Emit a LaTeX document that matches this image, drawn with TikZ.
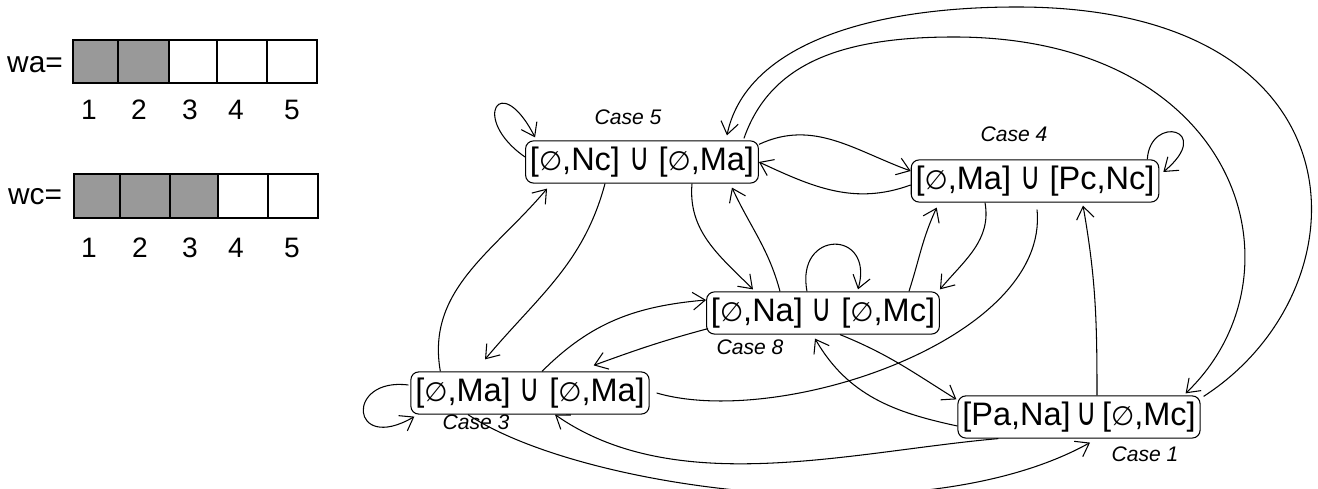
\documentclass[tikz,border=0pt]{standalone}
\usepackage{fontspec}
\usepackage{graphicx}
\setmainfont{Liberation Sans}
\newfontfamily\symfont{DejaVu Sans}[Scale=0.82]
\newcommand{\emptyglyph}{{\symfont ∅}}
\newcommand{\unionglyph}{\scalebox{1.05}[1.45]{\symfont ∪}}
\usetikzlibrary{positioning,calc,arrows.meta}
\definecolor{cellgray}{RGB}{153,153,153}

\begin{document}
\begin{tikzpicture}[x=0.02cm,y=0.02cm,
    >={Straight Barb[length=7pt,width=10pt]},
    line width=0.6pt,
    state/.style={
        rectangle, rounded corners=4.5pt, draw=black,
        minimum height=24pt,
        inner xsep=2.5pt, inner ysep=2pt,
        font=\fontsize{18.5}{22}\selectfont
    },
    casename/.style={font=\fontsize{12}{14}\selectfont\itshape, inner sep=0pt},
    arrname/.style={font=\fontsize{17}{19}\selectfont, inner sep=0pt},
    digit/.style={font=\fontsize{16}{18}\selectfont, inner sep=0pt},
    cell/.style={draw=black, line width=0.8pt},
]
    \useasboundingbox (0,0) rectangle (1318,489);
    \clip (0,0) rectangle (1318,489);

    \node [arrname] (wa) at (35,424) {wa=};
    \foreach \xa/\xb/\c in {73/118/cellgray,118/169/cellgray,169/217/white,217/267/white,267/317/white}
        \filldraw [cell, fill=\c] (\xa,406) rectangle (\xb,449);
    \foreach \x [count=\i] in {89,139,190,236,292}
        \node [digit] (wa\i) at (\x,379) {\i};

    \node [arrname] (wc) at (35,292) {wc=};
    \foreach \xa/\xb/\c in {74/120/cellgray,120/170/cellgray,170/218/cellgray,218/268/white,268/318/white}
        \filldraw [cell, fill=\c] (\xa,271) rectangle (\xb,315);
    \foreach \x [count=\i] in {89,140,190,236,292}
        \node [digit] (wc\i) at (\x,241) {\i};

    \node [state] (n5) at (642,327) {[\emptyglyph,Nc] \unionglyph{} [\emptyglyph,Ma]};
    \node [state] (n4) at (1035,308) {[\emptyglyph,Ma] \unionglyph{} [Pc,Nc]};
    \node [state] (n8) at (823,176) {[\emptyglyph,Na] \unionglyph{} [\emptyglyph,Mc]};
    \node [state] (n3) at (530,96) {[\emptyglyph,Ma] \unionglyph{} [\emptyglyph,Ma]};
    \node [state] (n1) at (1079,72) {[Pa,Na]\,\unionglyph\,[\emptyglyph,Mc]};

    \node [casename] (case5) at (628,372) {Case 5};
    \node [casename] (case4) at (1014,355) {Case 4};
    \node [casename] (case8) at (750,142) {Case 8};
    \node [casename] (case3) at (476,67) {Case 3};
    \node [casename] (case1) at (1145,35) {Case 1};

    \draw[->] ($(n5.west)+(0,5)$) .. controls (470,370) and (500,420) .. ($(n5.north west)+(10,3)$);
    \draw[->] ($(n4.north east)+(-12,0)$) .. controls (1150,375) and (1215,360) .. ($(n4.east)+(4,9)$);
    \draw[->] ($(n8.north)+(-16,0)$) .. controls (795,260) and (875,260) .. ($(n8.north)+(35,2)$);
    \draw[->] ($(n3.west)+(-2,8)$) .. controls (345,112) and (350,35) .. ($(n3.south west)+(4,-2)$);

    \draw[->] ($(n1.north east)+(3,-1)$) .. controls (1370,200) and (1370,482) .. (1017,482)
        .. controls (860,482) and (745,440) .. ($(n5.north east)+(-32,5)$);
    \draw[->] ($(n5.north east)+(-15,2)$) .. controls (770,425) and (840,452) .. (954,452)
        .. controls (1240,452) and (1310,215) .. ($(n1.north east)+(-15,2)$);

    \draw[->] ($(n5.north east)+(0,-4)$) to[out=25,in=160] ($(n4.west)+(0,10)$);
    \draw[->] ($(n4.west)+(0,-4)$) to[out=200,in=-25] (n5.east);
    \draw[->] ($(n3.north west)+(30,0)$) to[out=100,in=-130] ($(n5.south west)+(22,-5)$);
    \draw[->] ($(n5.south)+(-37,0)$) to[out=-105,in=50] ($(n3.north)+(-45,12)$);
    \draw[->] ($(n5.south)+(50,0)$) to[out=-95,in=135] ($(n8.north)+(-70,2)$);
    \draw[->] ($(n8.north)+(-43,0)$) to[out=105,in=-65] ($(n5.south east)+(-27,-4)$);
    \draw[->] ($(n3.north)+(12,0)$) to[out=45,in=185] ($(n8.west)+(0,13)$);
    \draw[->] ($(n8.south west)+(2,6)$) to[out=195,in=20] ($(n3.north east)+(-56,6)$);
    \draw[->] ($(n8.north east)+(-31,0)$) to[out=72,in=-115] ($(n4.south west)+(26,-5)$);
    \draw[->] ($(n4.south)+(-50,0)$) to[out=-80,in=50] ($(n8.north east)+(0,2)$);
    \draw ($(n4.south)+(2,-7)$) .. controls (1050,150) and (780,60) .. ($(n3.east)+(7,0)$);
    \draw[->] ($(n8.south)+(17,0)$) to[out=-22,in=148] ($(n1.north west)+(-1,-4)$);
    \draw[->] ($(n1.west)+(0,-9)$) to[out=168,in=-60] ($(n8.south)+(-8,-4)$);
    \draw[->] ($(n1.north)+(18,0)$) to[out=90,in=-80] ($(n4.south)+(48,-3)$);
    \draw[->] ($(n1.south west)+(41,0)$) to[out=185,in=-35,looseness=0.85] ($(n3.south)+(25,0)$);
    \draw[->] ($(n3.south)+(-62,0)$) .. controls (580,0) and (920,-48) .. ($(n1.south)+(11,-4)$);

\end{tikzpicture}
\end{document}
